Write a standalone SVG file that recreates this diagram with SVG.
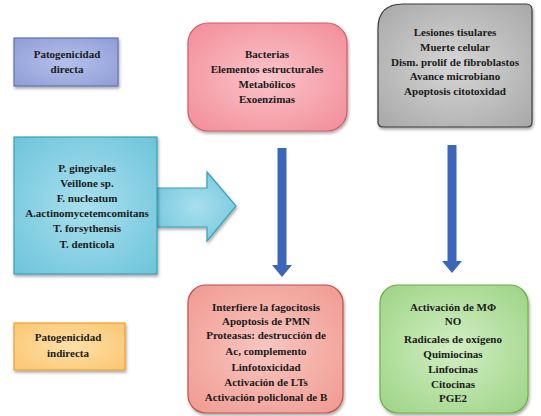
<svg xmlns="http://www.w3.org/2000/svg" width="541" height="416" viewBox="0 0 541 416">
<defs>
<radialGradient id="gBlue" cx="0.5" cy="0.5" r="0.7"><stop offset="0" stop-color="#b4c0ec"/><stop offset="1" stop-color="#8e9dd6"/></radialGradient>
<radialGradient id="gPink" cx="0.5" cy="0.5" r="0.7"><stop offset="0" stop-color="#fbc4ca"/><stop offset="1" stop-color="#f28c98"/></radialGradient>
<radialGradient id="gGray" cx="0.5" cy="0.5" r="0.7"><stop offset="0" stop-color="#d6d6d6"/><stop offset="1" stop-color="#a8a8a8"/></radialGradient>
<radialGradient id="gCyan" cx="0.5" cy="0.5" r="0.7"><stop offset="0" stop-color="#a8e0ee"/><stop offset="1" stop-color="#6ec4da"/></radialGradient>
<radialGradient id="gSalmon" cx="0.5" cy="0.5" r="0.7"><stop offset="0" stop-color="#f8c6c0"/><stop offset="1" stop-color="#f09a90"/></radialGradient>
<radialGradient id="gGreen" cx="0.5" cy="0.5" r="0.7"><stop offset="0" stop-color="#d2eec4"/><stop offset="1" stop-color="#9cd484"/></radialGradient>
<radialGradient id="gOrange" cx="0.5" cy="0.5" r="0.7"><stop offset="0" stop-color="#fde0a8"/><stop offset="1" stop-color="#fbc670"/></radialGradient>
<filter id="sh" x="-10%" y="-10%" width="125%" height="125%"><feDropShadow dx="1" dy="2" stdDeviation="1.5" flood-color="#000" flood-opacity="0.35"/></filter>
</defs>
<style>
text{font-family:'Liberation Serif','Times New Roman',serif;font-weight:bold;font-size:11px;fill:#1a1a1a;text-anchor:middle}
.box{filter:url(#sh);stroke-width:1.2}
.arr{fill:#3c66b9}
</style>

<g id="connectors">
<polygon points="157,188 207,188 207,172 236,206 207,241 207,227 157,227" fill="url(#gCyan)" stroke="#3aa0b8" stroke-width="1.2" class="box"/>
<polygon class="arr" points="277.5,148 286.5,148 286.5,265 292,265 282,277 272,265 277.5,265"/>
<polygon class="arr" points="447.5,145 456.5,145 456.5,261 462,261 452,273 442,261 447.5,261"/>
</g>

<g id="patogenicidad-directa">
<rect class="box" x="14" y="38" width="104" height="48" fill="url(#gBlue)" stroke="#6272b4"/>
<text x="67" y="58" font-family="Liberation Serif, serif">Patogenicidad</text>
<text x="67" y="73" font-family="Liberation Serif, serif">directa</text>
</g>

<g id="bacterias">
<rect class="box" x="188" y="23" width="159" height="108" rx="20" fill="url(#gPink)" stroke="#d25a68"/>
<text x="267" y="58">Bacterias</text>
<text x="267" y="73">Elementos estructurales</text>
<text x="267" y="88">Metabólicos</text>
<text x="267" y="103">Exoenzimas</text>
</g>

<g id="lesiones">
<path class="box" d="M403,4 H526 Q532,4 532,10 V122 Q532,127 527,127 H383 Q378,127 378,122 V29 Q378,4 403,4 Z" fill="url(#gGray)" stroke="#3c3c3c"/>
<text x="455" y="36">Lesiones tisulares</text>
<text x="455" y="51">Muerte celular</text>
<text x="455" y="66">Dism. prolif de fibroblastos</text>
<text x="455" y="80">Avance microbiano</text>
<text x="455" y="95">Apoptosis citotoxidad</text>
</g>

<g id="especies">
<rect class="box" x="14" y="137" width="143" height="137" fill="url(#gCyan)" stroke="#3aa0b8"/>
<text x="87" y="172">P. gingivales</text>
<text x="87" y="187">Veillone sp.</text>
<text x="87" y="202">F. nucleatum</text>
<text x="87" y="217">A.actinomycetemcomitans</text>
<text x="87" y="232">T. forsythensis</text>
<text x="87" y="248">T. denticola</text>
</g>

<g id="mecanismos">
<rect class="box" x="188" y="285" width="155" height="128" rx="18" fill="url(#gSalmon)" stroke="#c0504d"/>
<text x="266" y="311">Interfiere la fagocitosis</text>
<text x="266" y="325">Apoptosis de PMN</text>
<text x="266" y="339">Proteasas: destrucción de</text>
<text x="266" y="355">Ac, complemento</text>
<text x="266" y="371">Linfotoxicidad</text>
<text x="266" y="386">Activación de LTs</text>
<text x="266" y="401">Activación policlonal de  B</text>
</g>

<g id="mediadores">
<rect class="box" x="380" y="285" width="148" height="128" rx="18" fill="url(#gGreen)" stroke="#70ad47"/>
<text x="453" y="311">Activación de MΦ</text>
<text x="453" y="325">NO</text>
<text x="453" y="343">Radicales de oxígeno</text>
<text x="453" y="358">Quimiocinas</text>
<text x="453" y="373">Linfocinas</text>
<text x="453" y="388">Citocinas</text>
<text x="453" y="402">PGE2</text>
</g>

<g id="patogenicidad-indirecta">
<rect class="box" x="14" y="323" width="111" height="47" fill="url(#gOrange)" stroke="#f0a030"/>
<text x="68" y="341">Patogenicidad</text>
<text x="68" y="357">indirecta</text>
</g>
</svg>
